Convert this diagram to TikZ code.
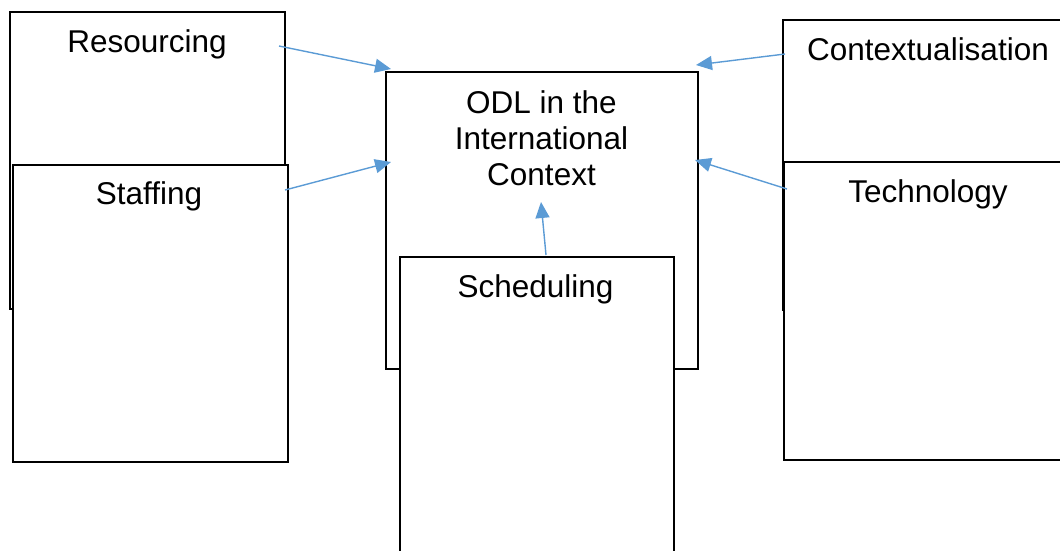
\documentclass[tikz,border=0pt]{standalone}
\usepackage{fontspec}
\setmainfont{Liberation Sans}
\usetikzlibrary{arrows.meta}
\definecolor{arrowblue}{RGB}{91,155,213}
\tikzset{
  box/.style={draw=black, fill=white, line width=1.6pt, rectangle, inner sep=0pt, anchor=north west},
  label/.style={font=\fontsize{31.5}{36}\selectfont, anchor=base, inner sep=0pt, align=center},
  link/.style={draw=arrowblue, line width=1.4pt, -{Triangle[length=16pt,width=14pt]}}
}
\begin{document}
\begin{tikzpicture}[x=1pt,y=-1pt]
  \useasboundingbox (0,0) rectangle (1060,550);
  \clip (0,0) rectangle (1060,550);
  % left column
  \node[box, minimum width=275pt, minimum height=297pt] (res) at (9,11) {};
  \node[box, minimum width=275pt, minimum height=297pt] (staff) at (12,164) {};
  % right column (runs past the right edge)
  \node[box, minimum width=330pt, minimum height=290pt] (ctx) at (782,19) {};
  \node[box, minimum width=330pt, minimum height=298pt] (tech) at (783,161) {};
  % centre
  \node[box, minimum width=312pt, minimum height=297pt] (odl) at (385,71) {};
  \node[box, minimum width=274pt, minimum height=350pt] (sched) at (399,256) {};
  % labels (a multi-line node sits on the baseline of its last line)
  \node[label] (resL) at (147,52) {Resourcing};
  \node[label] (staffL) at (149,204) {Staffing};
  \node[label] (ctxL) at (928,60) {Contextualisation};
  \node[label] (techL) at (928,202) {Technology};
  \node[label] (odlL) at (541.5,185) {ODL in the\\International\\Context};
  \node[label] (schedL) at (535.5,297) {Scheduling};
  % connector ends
  \coordinate (resA) at (279,46);
  \coordinate (odlA) at (391,69);
  \coordinate (staffA) at (285,190);
  \coordinate (odlB) at (391,162);
  \coordinate (ctxA) at (785,54);
  \coordinate (odlC) at (696,65);
  \coordinate (techA) at (787,189);
  \coordinate (odlD) at (695,160);
  \coordinate (schedA) at (546,255);
  \coordinate (odlE) at (541,202);
  \draw[link] (resA) -- (odlA);
  \draw[link] (staffA) -- (odlB);
  \draw[link] (ctxA) -- (odlC);
  \draw[link] (techA) -- (odlD);
  \draw[link] (schedA) -- (odlE);
\end{tikzpicture}
\end{document}
